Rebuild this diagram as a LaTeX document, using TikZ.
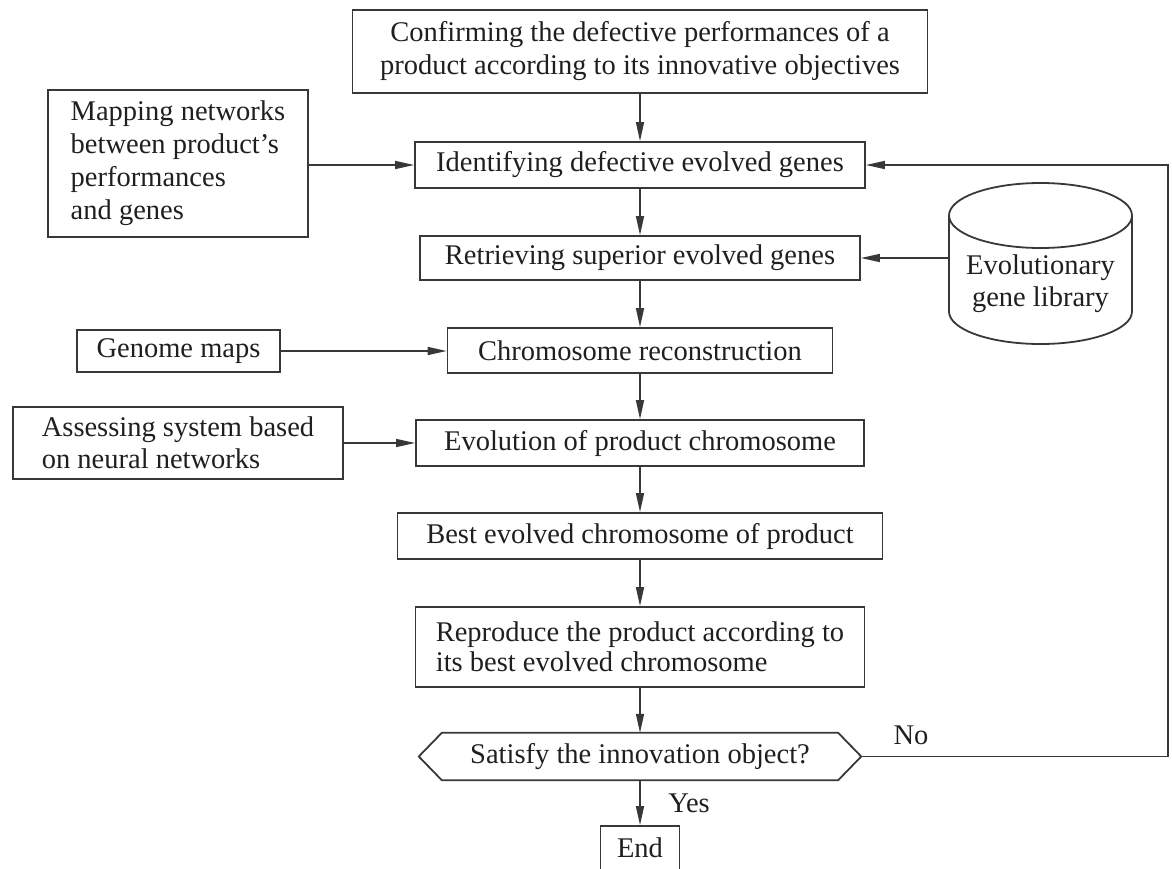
\documentclass[tikz,border=0pt]{standalone}
\usepackage{fontspec}
\setmainfont{Liberation Serif}
\usetikzlibrary{arrows.meta,calc}
\begin{document}
\begin{tikzpicture}[x=1pt,y=1pt,
  every node/.style={font=\fontsize{28.5}{33}\selectfont, text=black!88, inner sep=0pt},
  box/.style={draw=black!78, line width=1.8pt},
  link/.style={draw=black!78, line width=1.5pt, -{Triangle[length=19pt,width=8pt]}},
]
\useasboundingbox (0,0) rectangle (1172,-869);

% main column
\node[box, minimum width=575pt, minimum height=83pt, align=center] (top) at (640,-51.5)
  {Confirming the defective performances of a\\product according to its innovative objectives};
\node[box, minimum width=450pt, minimum height=46pt] (ident) at (640,-165) {Identifying defective evolved genes};
\node[box, minimum width=440pt, minimum height=44pt] (retr) at (640,-258) {Retrieving superior evolved genes};
\node[box, minimum width=385pt, minimum height=45pt] (chrom) at (640,-350.5) {Chromosome reconstruction};
\node[box, minimum width=448pt, minimum height=46pt] (evol) at (640,-443) {Evolution of product chromosome};
\node[box, minimum width=485pt, minimum height=46pt] (best) at (640,-536) {Best evolved chromosome of product};
\node[box, minimum width=449pt, minimum height=80pt, align=left, font=\fontsize{28.5}{30}\selectfont] (repr) at (640,-647)
  {Reproduce the product according to\\its best evolved chromosome};

% decision hexagon
\node[minimum width=442pt, minimum height=47pt] (dec) at (640,-756.5) {Satisfy the innovation object?};
\draw[box] (dec.west) -- ([xshift=23pt]dec.north west) -- ([xshift=-23pt]dec.north east) -- (dec.east)
  -- ([xshift=-23pt]dec.south east) -- ([xshift=23pt]dec.south west) -- cycle;

\node[box, minimum width=79pt, minimum height=44pt] (end) at (640,-848) {End};

% inputs on the left
\node[box, minimum width=260pt, minimum height=147pt, align=left] (map) at (178,-163.5)
  {Mapping networks\\between product's\\performances\\and genes};
\node[box, minimum width=203pt, minimum height=42pt] (genome) at (178.5,-351) {Genome maps};
\node[box, minimum width=330pt, minimum height=72pt, align=left, font=\fontsize{28.5}{32}\selectfont] (assess) at (178,-443)
  {Assessing system based\\on neural networks};

% gene library cylinder
\node[minimum width=183pt, minimum height=161pt] (lib) at (1040.5,-263.5) {};
\draw[box] (1040.5,-215.5) ellipse [x radius=91.5, y radius=32.5];
\draw[box] (949,-215.5) -- (949,-311.5) arc[start angle=180, end angle=360, x radius=91.5, y radius=32.5] -- (1132,-215.5);
\node[align=center, font=\fontsize{28.5}{32}\selectfont] (libtext) at (1040.5,-284) {Evolutionary\\gene library};

% flow
\draw[link] (top.south) -- (ident.north);
\draw[link] (ident.south) -- (retr.north);
\draw[link] (retr.south) -- (chrom.north);
\draw[link] (chrom.south) -- (evol.north);
\draw[link] (evol.south) -- (best.north);
\draw[link] (best.south) -- (repr.north);
\draw[link] (repr.south) -- (dec.north);
\draw[link] (dec.south) -- (end.north);

\draw[link] (map.east |- ident.west) -- (ident.west);
\draw[link] (genome.east) -- (genome.east -| chrom.west);
\draw[link] (assess.east) -- (evol.west);
\draw[link] (lib.west |- retr.east) -- (retr.east);

% feedback loop
\coordinate (rail) at (1168,0);
\draw[link] (dec.east) -- (dec.east -| rail) -- (ident.east -| rail) -- (ident.east);

\node (no) at (911,-735) {No};
\node (yes) at (689,-803) {Yes};
\end{tikzpicture}
\end{document}
